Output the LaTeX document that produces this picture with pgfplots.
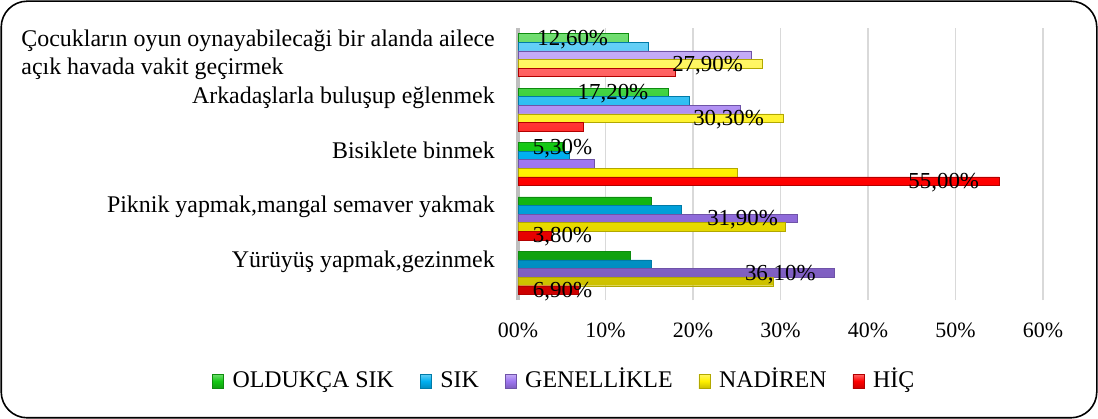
\documentclass[border=0pt]{standalone}
\usepackage{fontspec}
\setmainfont{Liberation Serif}
\usepackage{pgfplots}
\pgfplotsset{compat=1.18}
\usepackage{pgfplotstable}

\definecolor{cG}{RGB}{20,200,20}
\definecolor{cC}{RGB}{0,176,240}
\definecolor{cP}{RGB}{158,118,240}
\definecolor{cY}{RGB}{255,240,0}
\definecolor{cR}{RGB}{255,0,0}

% label text, shift of its right edge from the bar end (bp)
\newcommand\lab[2]{#1\kern-#2bp}

\pgfplotstableread{
x y lab
12.6 4 \lab{12,60\%}{-20}
17.2 3 \lab{17,20\%}{-20}
5.3 2 \lab{5,30\%}{28}
15.2 1 {}
12.8 0 {}
}\tGreen
\pgfplotstableread{
x y
14.9 4
19.6 3
5.9 2
18.7 1
15.2 0
}\tCyan
\pgfplotstableread{
x y lab
26.7 4 {}
25.4 3 {}
8.7 2 {}
31.9 1 \lab{31,90\%}{-19}
36.1 0 \lab{36,10\%}{-18}
}\tPurple
\pgfplotstableread{
x y lab
27.9 4 \lab{27,90\%}{-19}
30.3 3 \lab{30,30\%}{-19}
25.0 2 {}
30.5 1 {}
29.2 0 {}
}\tYellow
\pgfplotstableread{
x y lab
18.0 4 {}
7.5 3 {}
55.0 2 \lab{55,00\%}{-20}
3.8 1 \lab{3,80\%}{41}
6.9 0 \lab{6,90\%}{14}
}\tRed

\pgfplotsset{
  mybar/.style={xbar, bar width=8.6bp, bar shift=#1,
    every node near coord/.append style={yshift=#1-1.5bp},
    legend image code/.code={\draw[##1, line width=0.4bp] (0bp,-7bp) rectangle (11bp,7bp);}},
  col/.style={top color=#1!60!white, bottom color=#1!80!black, middle color=#1, draw=#1!70!black, line width=0.4bp},
  lbl/.style={nodes near coords, point meta=explicit symbolic,
    every node near coord/.append style={anchor=east, inner sep=0pt, text=black,
      font=\fontsize{23}{27}\selectfont}},
}

\begin{document}
\begin{tikzpicture}[font=\fontsize{24}{28}\selectfont]
\useasboundingbox (0,0) rectangle (1098bp,419bp);
\draw[line width=1.6bp, rounded corners=26bp] (1.2bp,1.2bp) rectangle (1096.8bp,417.8bp);
\begin{axis}[
  at={(518bp,119bp)}, anchor=south west,
  scale only axis, width=525bp, height=272bp,
  xmin=0, xmax=60, ymin=-0.5, ymax=4.5,
  xtick={10,20,...,60},
  xticklabels={10\%,20\%,30\%,40\%,50\%,60\%},
  extra x ticks={0}, extra x tick labels={00\%},
  extra x tick style={grid style={draw=black!25, line width=3.5bp}},
  xmajorgrids, grid style={draw=black!15, line width=1.2bp},
  ytick={0,1,2,3,4},
  yticklabels={{Yürüyüş yapmak,gezinmek\\\mbox{}},
               {Piknik yapmak,mangal semaver yakmak\\\mbox{}},
               {Bisiklete binmek\\\mbox{}},
               {Arkadaşlarla buluşup eğlenmek\\\mbox{}},
               {Çocukların oyun oynayabilecaği bir alanda ailece\\açık havada vakit geçirmek}},
  major tick length=0pt,
  axis line style={draw=none},
  xticklabel style={font=\fontsize{22}{26}\selectfont, anchor=center, yshift=-30bp},
  yticklabel style={align=left, anchor=east, inner sep=0pt, xshift=-23bp},
  legend columns=-1,
  legend style={draw=none, fill=none, at={(-0.583,-0.298)}, anchor=west,
    inner sep=0pt, font=\fontsize{24}{28}\selectfont,
    nodes={inner sep=0pt, text height=16bp, text depth=3bp},
    /tikz/every odd column/.append style={column sep=9bp},
    /tikz/every even column/.append style={column sep=26bp}},
]
\addplot[mybar=17.2bp, col=cG, lbl] table[x=x, y=y, meta=lab] {\tGreen};
\addplot[mybar=8.6bp, col=cC] table[x=x, y=y] {\tCyan};
\addplot[mybar=0bp, col=cP, lbl] table[x=x, y=y, meta=lab] {\tPurple};
\addplot[mybar=-8.6bp, col=cY, lbl] table[x=x, y=y, meta=lab] {\tYellow};
\addplot[mybar=-17.2bp, col=cR, lbl] table[x=x, y=y, meta=lab] {\tRed};
\legend{OLDUKÇA SIK, SIK, GENELLİKLE, NADİREN, HİÇ}
\end{axis}
\end{tikzpicture}
\end{document}
